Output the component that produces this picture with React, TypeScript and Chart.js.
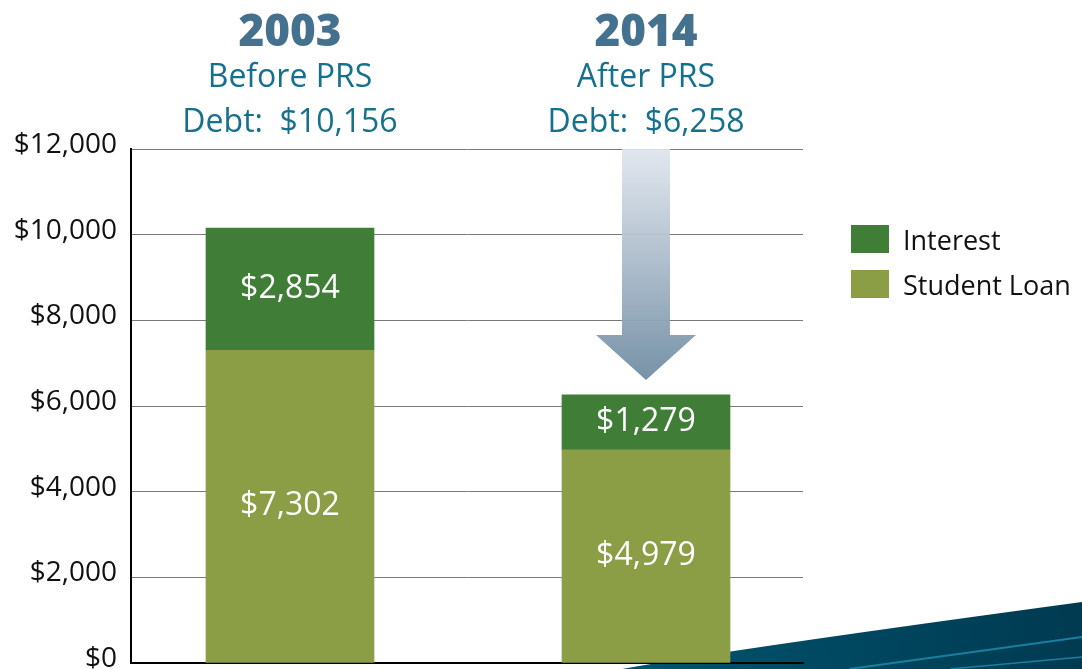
import React, { useEffect, useRef } from 'react';
import { Chart, registerables } from 'chart.js';
Chart.register(...registerables);

const years = ['2003', '2014'];
const subtitles = ['Before PRS', 'After PRS'];
const positions = [0, 1];
const studentLoan = [7302, 4979];
const interest = [2854, 1279];
const seriesNames = ['Student Loan', 'Interest'];
const seriesColors = ['#8b9d45', '#407d36'];
const yMin = 0;
const yMax = 12000;
const yStep = 2000;

const FONT = "'Open Sans', 'Noto Sans', sans-serif";
const fmt = (v: number) => '$' + Number(v).toLocaleString('en-US');

const decor = {
  id: 'decor',
  beforeDraw(chart: any) {
    const { ctx, width, height } = chart;
    ctx.save();
    const g = ctx.createLinearGradient(width * 0.57, height, width, height * 0.9);
    g.addColorStop(0, '#005470');
    g.addColorStop(1, '#003a50');
    ctx.fillStyle = g;
    ctx.beginPath();
    ctx.moveTo(width * 0.575, height);
    ctx.quadraticCurveTo(width * 0.68, height * 0.97, width, height * 0.9);
    ctx.lineTo(width, height);
    ctx.closePath();
    ctx.fill();
    ctx.strokeStyle = '#1a7f9e';
    ctx.lineWidth = 2;
    ctx.beginPath();
    ctx.moveTo(width * 0.785, height);
    ctx.lineTo(width, height * 0.952);
    ctx.stroke();
    ctx.lineWidth = 1.5;
    ctx.beginPath();
    ctx.moveTo(width * 0.878, height);
    ctx.lineTo(width, height * 0.982);
    ctx.stroke();
    ctx.restore();
  },
  afterDatasetsDraw(chart: any) {
    const { ctx, chartArea } = chart;
    const xs = chart.scales.x;
    const ys = chart.scales.y;
    ctx.save();
    // values inside bars
    ctx.fillStyle = '#ffffff';
    ctx.font = `32px ${FONT}`;
    ctx.textAlign = 'center';
    ctx.textBaseline = 'middle';
    chart.data.datasets.forEach((ds: any, di: number) => {
      const meta = chart.getDatasetMeta(di);
      meta.data.forEach((el: any, i: number) => {
        const v = ds.data[i].y;
        ctx.fillText(fmt(v), el.x, (el.y + el.base) / 2);
      });
    });
    // arrow over 2nd bar
    const ax = xs.getPixelForValue(positions[1]);
    const total2 = studentLoan[1] + interest[1];
    const tipY = ys.getPixelForValue(total2) - 15;
    const topY = chartArea.top;
    const headH = 45;
    const shaftW = 48;
    const headW = 100;
    const ag = ctx.createLinearGradient(0, topY, 0, tipY);
    ag.addColorStop(0, 'rgba(222,228,236,0.9)');
    ag.addColorStop(1, 'rgba(114,142,164,0.97)');
    ctx.fillStyle = ag;
    ctx.beginPath();
    ctx.moveTo(ax - shaftW / 2, topY);
    ctx.lineTo(ax + shaftW / 2, topY);
    ctx.lineTo(ax + shaftW / 2, tipY - headH);
    ctx.lineTo(ax + headW / 2, tipY - headH);
    ctx.lineTo(ax, tipY);
    ctx.lineTo(ax - headW / 2, tipY - headH);
    ctx.lineTo(ax - shaftW / 2, tipY - headH);
    ctx.closePath();
    ctx.fill();
    // titles above
    ctx.textBaseline = 'alphabetic';
    years.forEach((yr, i) => {
      const cx = xs.getPixelForValue(positions[i]);
      const total = studentLoan[i] + interest[i];
      ctx.fillStyle = '#44718e';
      ctx.font = `800 44px ${FONT}`;
      ctx.fillText(yr, cx, chartArea.top - 103);
      ctx.fillStyle = '#15708d';
      ctx.font = `32px ${FONT}`;
      ctx.fillText(subtitles[i], cx, chartArea.top - 62);
      ctx.fillText('Debt:  ' + fmt(total), cx, chartArea.top - 17);
    });
    // legend
    const lx = chartArea.right + 48;
    const items = [
      { name: seriesNames[1], color: seriesColors[1] },
      { name: seriesNames[0], color: seriesColors[0] },
    ];
    ctx.textAlign = 'left';
    ctx.textBaseline = 'middle';
    ctx.font = `27px ${FONT}`;
    items.forEach((it, k) => {
      const ty = chartArea.top + 76 + k * 45;
      ctx.fillStyle = it.color;
      ctx.fillRect(lx, ty, 38, 28);
      ctx.fillStyle = '#111111';
      ctx.fillText(it.name, lx + 52, ty + 17);
    });
    ctx.restore();
  },
};

export default function App() {
  const ref = useRef<HTMLCanvasElement | null>(null);
  useEffect(() => {
    if (!ref.current) return;
    const chart = new Chart(ref.current, {
      type: 'bar',
      data: {
        datasets: [
          {
            label: seriesNames[0],
            data: studentLoan.map((v, i) => ({ x: positions[i], y: v })),
            backgroundColor: seriesColors[0],
            barThickness: 168,
            borderWidth: 0,
          },
          {
            label: seriesNames[1],
            data: interest.map((v, i) => ({ x: positions[i], y: v })),
            backgroundColor: seriesColors[1],
            barThickness: 168,
            borderWidth: 0,
          },
        ],
      },
      options: {
        responsive: false,
        animation: false,
        layout: { autoPadding: false, padding: { top: 149, right: 279, bottom: 6, left: 0 } },
        plugins: { legend: { display: false }, tooltip: { enabled: false } },
        scales: {
          x: {
            type: 'linear',
            min: -0.4466,
            max: 1.441,
            offset: false,
            stacked: true,
            grid: { display: false, drawTicks: false, offset: false },
            border: { display: true, color: '#000000', width: 2 },
            ticks: { display: false },
            afterFit(s: any) {
              s.height = 0;
              s.paddingLeft = 0; s.paddingRight = 0; s.paddingTop = 0; s.paddingBottom = 0;
            },
          },
          y: {
            min: yMin,
            max: yMax,
            stacked: true,
            ticks: {
              stepSize: yStep,
              callback: (v: any) => fmt(v),
              font: { family: FONT, size: 28 },
              color: '#111111',
              padding: 14,
              labelOffset: -4,
            },
            grid: { color: '#7a7a7a', lineWidth: 1, drawTicks: false },
            border: { color: '#000000', width: 2 },
            afterFit(s: any) {
              s.width = 131;
              s.paddingLeft = 0; s.paddingRight = 0; s.paddingTop = 0; s.paddingBottom = 0;
            },
          },
        },
      },
      plugins: [decor],
    } as any);
    return () => chart.destroy();
  }, []);
  return (
    <div style={{ position: 'absolute', left: 0, top: 0, width: 1082, height: 669, background: '#ffffff' }}>
      <canvas ref={ref} width={1082} height={669} style={{ display: 'block' }} />
    </div>
  );
}
